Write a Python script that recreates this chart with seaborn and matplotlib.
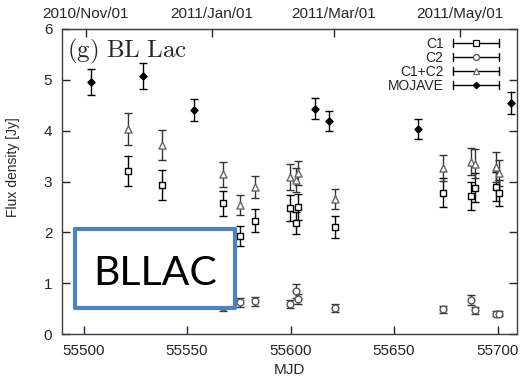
import numpy as np
import pandas as pd
import matplotlib
matplotlib.use("Agg")
import matplotlib.pyplot as plt
import seaborn as sns
from matplotlib.lines import Line2D
from matplotlib.legend_handler import HandlerBase
from matplotlib.patches import Rectangle

# ---------------- data ----------------
comp_mjd = [55521.7, 55537.7, 55567.6, 55575.7, 55582.9, 55599.5, 55602.8,
            55603.6, 55621.6, 55673.6, 55687.1, 55688.9, 55699.4, 55700.5]
c1 = [3.21, 2.93, 2.57, 1.93, 2.23, 2.48, 2.18, 2.50, 2.11, 2.78, 2.71, 2.88, 2.90, 2.77]
c1_err = [0.30, 0.30, 0.25, 0.19, 0.22, 0.26, 0.22, 0.25, 0.22, 0.28, 0.28, 0.28, 0.28, 0.26]
c2 = [0.82, 0.79, 0.54, 0.62, 0.64, 0.59, 0.85, 0.69, 0.52, 0.49, 0.67, 0.47, 0.40, 0.40]
c2_err = [0.10, 0.10, 0.08, 0.08, 0.08, 0.08, 0.14, 0.10, 0.08, 0.07, 0.10, 0.07, 0.05, 0.05]
c12 = [4.03, 3.72, 3.14, 2.54, 2.89, 3.09, 3.03, 3.17, 2.65, 3.27, 3.39, 3.35, 3.29, 3.17]
c12_err = [0.32, 0.30, 0.25, 0.20, 0.22, 0.26, 0.24, 0.24, 0.20, 0.26, 0.26, 0.28, 0.30, 0.26]

mojave_mjd = [55503.7, 55528.7, 55553.6, 55611.6, 55618.8, 55661.5, 55706.6]
mojave = [4.96, 5.08, 4.41, 4.43, 4.19, 4.03, 4.54]
mojave_err = [0.26, 0.26, 0.21, 0.21, 0.20, 0.20, 0.22]

x_ticks = [55500, 55550, 55600, 55650, 55700]
y_ticks = [0, 1, 2, 3, 4, 5, 6]
top_tick_mjd = [55501, 55562, 55621, 55682]
top_tick_labels = ["2010/Nov/01", "2011/Jan/01", "2011/Mar/01", "2011/May/01"]
series_names = ["C1", "C2", "C1+C2", "MOJAVE"]

# ---------------- style ----------------
sns.set_style("ticks")
plt.rcParams["font.family"] = ["Liberation Sans", "DejaVu Sans"]
plt.rcParams["mathtext.fontset"] = "cm"

W, H = 523, 382
fig = plt.figure(figsize=(W / 100, H / 100), dpi=100)
ax = fig.add_axes([62 / W, 1 - 334 / H, 455 / W, 305 / H])

df_c1 = pd.DataFrame({"MJD": comp_mjd, "flux": c1, "err": c1_err})
df_c2 = pd.DataFrame({"MJD": comp_mjd, "flux": c2, "err": c2_err})
df_c12 = pd.DataFrame({"MJD": comp_mjd, "flux": c12, "err": c12_err})
df_moj = pd.DataFrame({"MJD": mojave_mjd, "flux": mojave, "err": mojave_err})

styles = {
    "C1": dict(df=df_c1, marker="s", s=22, fc="white", ec="black", ecol="black"),
    "C2": dict(df=df_c2, marker="o", s=24, fc="white", ec="#555555", ecol="#333333"),
    "C1+C2": dict(df=df_c12, marker="^", s=26, fc="white", ec="#666666", ecol="#333333"),
    "MOJAVE": dict(df=df_moj, marker="D", s=13, fc="black", ec="black", ecol="black"),
}

for name in series_names:
    st = styles[name]
    d = st["df"]
    ax.errorbar(d["MJD"], d["flux"], yerr=d["err"], fmt="none", ecolor=st["ecol"],
                elinewidth=1.0, capsize=3, capthick=1.0, zorder=2)
    sns.scatterplot(data=d, x="MJD", y="flux", marker=st["marker"], s=st["s"],
                    facecolor=st["fc"], edgecolor=st["ec"], linewidth=1.0,
                    ax=ax, zorder=3, legend=False)

ax.set_xlim(55489.6, 55709.4)
ax.set_ylim(0, 6)
ax.set_xticks(x_ticks)
ax.set_yticks(y_ticks)
ax.tick_params(axis="x", direction="in", length=6, width=1, labelsize=11, pad=7,
               top=False, bottom=True)
ax.tick_params(axis="y", direction="in", length=6, width=1, labelsize=11, pad=7,
               left=True, right=True)
ax.set_xlabel("MJD", fontsize=11, labelpad=4)
ax.set_ylabel("Flux density [Jy]", fontsize=10)
ax.yaxis.set_label_coords(-0.092, 0.546)
for sp in ax.spines.values():
    sp.set_color("#404040")
    sp.set_linewidth(1.0)

sec = ax.secondary_xaxis("top")
sec.set_xticks(top_tick_mjd, labels=top_tick_labels)
sec.tick_params(direction="in", length=6, width=1, labelsize=11, pad=6)

ax.text(0.0103, 0.907, r"$\mathrm{(g)\ BL\ Lac}$", transform=ax.transAxes,
        ha="left", va="baseline", fontsize=18)


# gnuplot-like legend keys: horizontal bar with end caps, marker in the middle
class GnuplotKey(HandlerBase):
    def create_artists(self, legend, orig_handle, xdescent, ydescent, width,
                       height, fontsize, trans):
        y = height / 2 - ydescent
        x0, x1 = -xdescent, width - xdescent
        cap = 3.0
        arts = [
            Line2D([x0, x1], [y, y], color="black", lw=1, transform=trans),
            Line2D([x0, x0], [y - cap, y + cap], color="black", lw=1, transform=trans),
            Line2D([x1, x1], [y - cap, y + cap], color="black", lw=1, transform=trans),
            Line2D([(x0 + x1) / 2], [y], ls="none", marker=orig_handle.get_marker(),
                   markersize=orig_handle.get_markersize(),
                   markerfacecolor=orig_handle.get_markerfacecolor(),
                   markeredgecolor=orig_handle.get_markeredgecolor(),
                   markeredgewidth=0.9, transform=trans),
        ]
        return arts


msize = {"C1": 4.3, "C2": 4.3, "C1+C2": 4.6, "MOJAVE": 3.3}
handles = [Line2D([], [], marker=styles[n]["marker"], markersize=msize[n],
                  markerfacecolor=styles[n]["fc"], markeredgecolor=styles[n]["ec"],
                  ls="none") for n in series_names]
leg = ax.legend(handles, series_names, handler_map={Line2D: GnuplotKey()},
                loc="upper right", bbox_to_anchor=((499 - 62) / 455, (334 - 37) / 305),
                frameon=False, borderpad=0, borderaxespad=0, markerfirst=False,
                fontsize=10, handlelength=3.3, handletextpad=0.7, labelspacing=0.0)

# overlay label box (drawn on top of the figure)
rect = Rectangle((75.3 / W, 1 - 308 / H), 159.4 / W, 78.7 / H, transform=fig.transFigure,
                 facecolor="white", edgecolor="#4F81BD", linewidth=3.0, zorder=20,
                 joinstyle="round")
fig.add_artist(rect)
fig.text(155.3 / W, 1 - 285 / H, "BLLAC", ha="center", va="baseline", fontsize=29.5,
         family=["Lato", "DejaVu Sans"], color="black", zorder=21)

fig.savefig("out.png", dpi=100)
